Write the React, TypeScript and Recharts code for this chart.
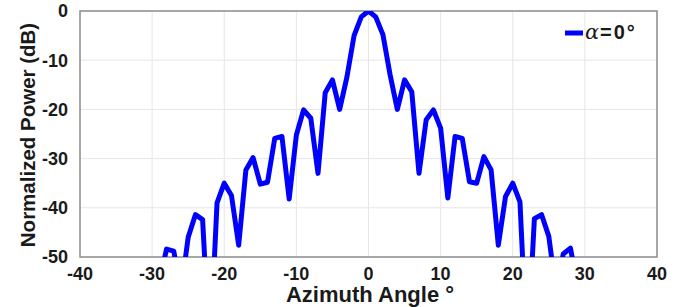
import React from 'react';
import { LineChart, Line, XAxis, YAxis, CartesianGrid, ReferenceArea, Legend } from 'recharts';

const angles = [-30, -29, -28, -27, -26, -25, -24, -23, -22, -21, -20, -19, -18, -17, -16, -15, -14, -13, -12, -11, -10, -9, -8, -7, -6, -5, -4, -3, -2, -1, 0, 1, 2, 3, 4, 5, 6, 7, 8, 9, 10, 11, 12, 13, 14, 15, 16, 17, 18, 19, 20, 21, 22, 23, 24, 25, 26, 27, 28, 29, 30];
const power = [-62, -55, -48.4, -48.8, -57, -46, -41.4, -42.4, -70, -39, -35, -37.5, -47.6, -32.3, -29.8, -35.2, -34.8, -25.9, -25.5, -38.2, -25.2, -20.1, -21.8, -33, -16.6, -14, -20, -13.5, -5, -1.2, 0, -1.2, -4.8, -13, -20, -14, -16.4, -33, -22.1, -20.1, -23.8, -38, -25.5, -25.9, -34.7, -35, -29.6, -32.3, -47.6, -37.7, -35, -38.8, -70, -42.2, -41.4, -45.8, -57, -49.4, -48.2, -56, -62];
const xTicks = [-40, -30, -20, -10, 0, 10, 20, 30, 40];
const yTicks = [-50, -40, -30, -20, -10, 0];
const seriesName = 'α=0°';

const data = angles.map((a, i) => ({ angle: a, power: power[i] }));

const FONT = '"Liberation Sans", Arial, sans-serif';
const TXT = '#1a1a1a';

const LegendContent = () => (
  <svg width={100} height={30} style={{ display: 'block' }}>
    <line x1={2} y1={15} x2={20} y2={15} stroke="#0000ff" strokeWidth={5} />
    <text x={22} y={21} fontFamily="'DejaVu Serif', serif" fontStyle="italic" fontSize={21} fill={TXT}>α</text>
    <text x={37} y={21} fontFamily={FONT} fontWeight="bold" fontSize={20} letterSpacing={2} fill={TXT}>=0°</text>
  </svg>
);

export default function App() {
  return (
    <div style={{ position: 'absolute', left: 0, top: 0, width: 686, height: 307, background: '#fff' }}>
      <LineChart width={686} height={307} data={data} margin={{ top: 11, right: 29, left: 0, bottom: 0 }}>
        <CartesianGrid stroke="#e6e6e6" strokeWidth={1} />
        <XAxis
          dataKey="angle"
          type="number"
          domain={[-40, 40]}
          ticks={xTicks}
          height={50}
          axisLine={false}
          tickLine={false}
          tick={{ fontFamily: FONT, fontWeight: 'bold', fontSize: 18, fill: TXT }}
          tickMargin={4}
          label={(props: any) => (
            <text x={370} y={302} textAnchor="middle" fontFamily={FONT} fontWeight="bold" fontSize={22} fill={TXT}>
              Azimuth Angle °
            </text>
          )}
        />
        <YAxis
          type="number"
          domain={[-50, 0]}
          ticks={yTicks}
          allowDataOverflow
          width={80}
          axisLine={false}
          tickLine={false}
          tickMargin={6}
          tick={{ fontFamily: FONT, fontWeight: 'bold', fontSize: 18, fill: TXT }}
          label={(props: any) => (
            <text x={27} y={135} transform="rotate(-90 27 135)" textAnchor="middle" dominantBaseline="central" fontFamily={FONT} fontWeight="bold" fontSize={20.5} fill={TXT}>
              Normalized Power (dB)
            </text>
          )}
        />
        <ReferenceArea x1={-40} x2={40} y1={-50} y2={0} fill="none" stroke="#8f8f8f" strokeWidth={1.5} fillOpacity={0} />
        <Legend
          layout="horizontal"
          verticalAlign="middle"
          align="center"
          content={<LegendContent />}
          wrapperStyle={{ position: 'absolute', left: 563, top: 18, width: 100, height: 30 }}
        />
        <Line
          type="linear"
          dataKey="power"
          name={seriesName}
          stroke="#0000ff"
          strokeWidth={5}
          dot={false}
          strokeLinejoin="round"
          isAnimationActive={false}
        />
      </LineChart>
    </div>
  );
}
